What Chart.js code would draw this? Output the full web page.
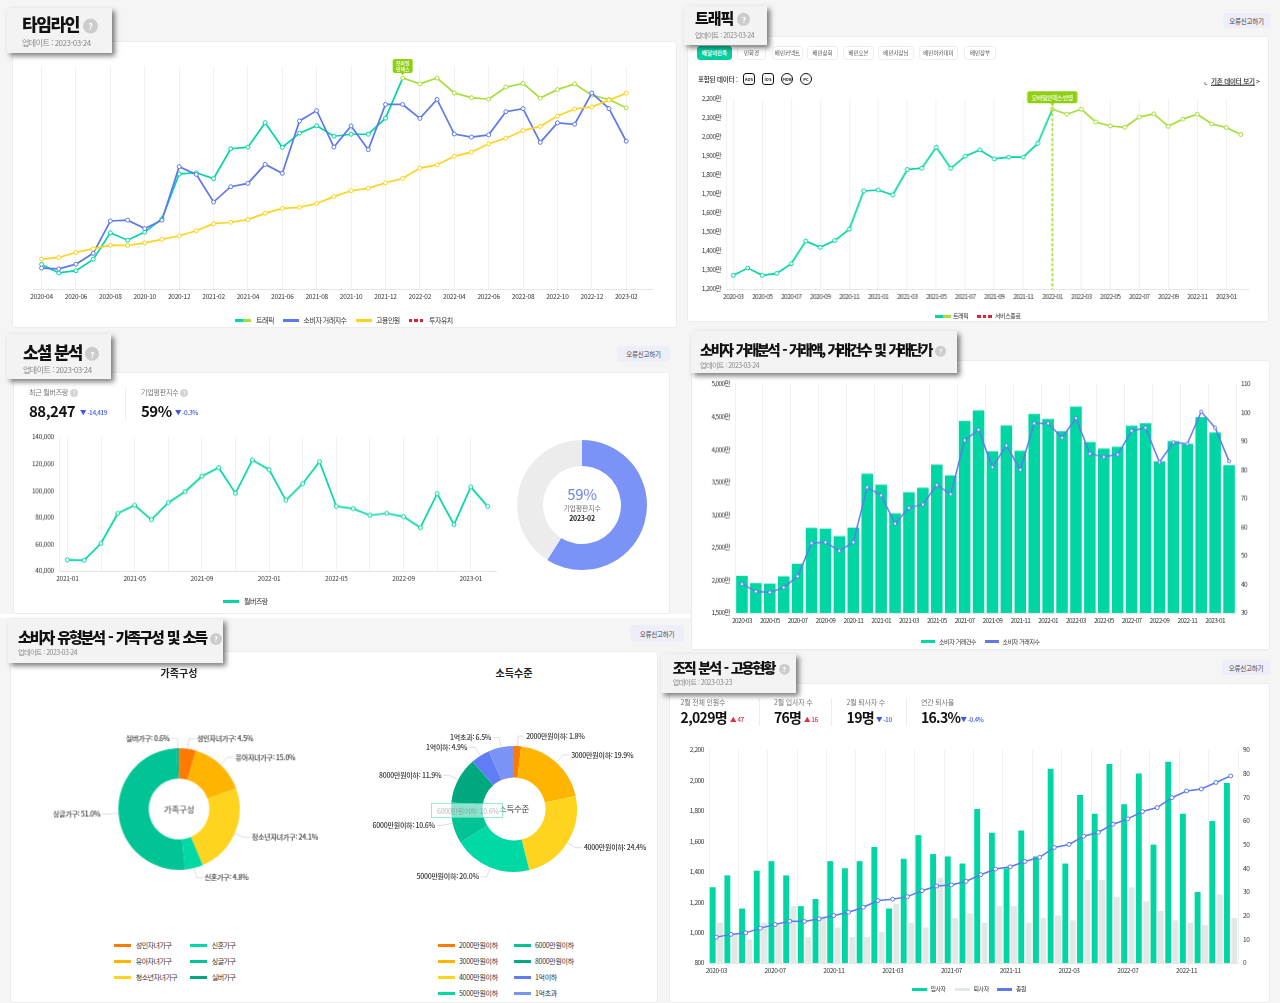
<!DOCTYPE html>
<html lang="ko">
<head>
<meta charset="utf-8">
<title>배달의민족 대시보드</title>
<script src="https://cdn.jsdelivr.net/npm/chart.js@4"></script>
<style>
  html, body { margin: 0; padding: 0; }
  body { width: 1280px; height: 1003px; position: relative; overflow: hidden; background: #f5f5f5;
         font-family: 'Noto Sans CJK KR', 'Noto Sans', sans-serif; color: #222; filter: blur(.3px); }
  .abs { position: absolute; box-sizing: border-box; }
  .t { position: absolute; white-space: nowrap; transform: translateY(-50%); line-height: 1; }
  .card { background: #fff; border: 1px solid #ececec; border-radius: 3px; }
  .head { background: #f3f3f3; box-shadow: 3px 3px 5px rgba(0,0,0,.5); z-index: 5; }
  .btn { background: #eeeef8; border-radius: 3px; font-size: 6.5px; letter-spacing: -.2px; color: #444; display: flex; align-items: center; justify-content: center; }
  .tab { background: #fff; border: 1px solid #eee; border-radius: 3px; font-size: 5.5px; color: #555; display: flex; align-items: center; justify-content: center; white-space: nowrap; }
  .tab.on { background: #00d0a0; border-color: #00d0a0; color: #fff; font-weight: 700; }
  .badge { border: 1.2px solid #111; font-size: 4px; font-weight: 700; display: flex; align-items: center; justify-content: center; background: #fff; }
  canvas { position: absolute; display: block; }
</style>
</head>
<body>
<script>
// 월 라벨
const months = ['2020-03','2020-04','2020-05','2020-06','2020-07','2020-08','2020-09','2020-10','2020-11','2020-12',
  '2021-01','2021-02','2021-03','2021-04','2021-05','2021-06','2021-07','2021-08','2021-09','2021-10','2021-11','2021-12',
  '2022-01','2022-02','2022-03','2022-04','2022-05','2022-06','2022-07','2022-08','2022-09','2022-10','2022-11','2022-12',
  '2023-01','2023-02'];

// 트래픽 (만)
const trafficValues = [1272,1310,1272,1282,1333,1452,1419,1455,1515,1716,1721,1695,1829,1836,1946,1835,1899,1932,1885,1894,1894,1966,
  2146,2120,2146,2079,2058,2051,2105,2122,2056,2094,2120,2069,2050,2013];
// 소비자 거래지수
const indexValues = [40.1,37.5,37.2,38.9,42.8,54.4,54.7,51.7,54.7,73.9,71.1,61.2,66.7,67.9,74.7,71.5,90.3,94,80.9,88.5,80,96.2,
  96.2,91.2,98,85.6,84.5,85.3,93.6,94.7,82.6,89.6,89.1,100.3,94.7,83];
// 소비자 거래건수 (만)
const dealCounts = [2069,1957,1947,2059,2252,2800,2790,2673,2805,3628,3461,3024,3344,3415,3766,3603,4436,4594,3969,4365,3979,4543,
  4467,4279,4654,4111,4014,4040,4360,4400,3816,4126,4086,4492,4258,3761];
// 고용 총원 / 입사자 / 퇴사자
const staffTotal = [970,988,998,1029,1053,1075,1073,1090,1112,1134,1166,1210,1219,1236,1275,1306,1313,1337,1380,1417,1432,1467,
  1494,1559,1579,1633,1659,1712,1747,1795,1821,1886,1930,1943,1986,2029];
const joiners = [32,37,23,39,43,37,24,27,43,40,43,49,23,44,54,46,45,42,65,55,40,56,45,82,42,71,63,84,67,80,50,85,63,30,60,76];
const leavers = [17,12,10,17,16,24,11,20,15,11,11,13,25,17,15,36,19,21,17,24,24,17,19,20,18,35,35,28,32,26,22,18,17,16,29,19];

// 소셜 분석
const buzzMonths = months.slice(10);
const buzzValues = [48210,47960,60650,83040,89010,78310,91000,99210,110660,117130,97970,122850,115630,92750,105190,121600,
  88270,86530,81550,83040,80550,72340,97720,74580,102666,88247];
const reputation = [59, 41];

// 가족구성 / 소득수준
const familyLabels = ['성인자녀가구','유아자녀가구','청소년자녀가구','신혼가구','싱글가구','실버가구'];
const familyValues = [4.5,15.0,24.1,4.8,51.0,0.6];
const incomeLabels = ['2000만원이하','3000만원이하','4000만원이하','5000만원이하','6000만원이하','8000만원이하','1억이하','1억초과'];
const incomeValues = [1.8,19.9,24.4,20.0,10.6,11.9,4.9,6.5];

const GREEN = '#00d6a3', LIME = '#a6de38', BLUE = '#5f78ea', YELLOW = '#ffd21f', GREY = '#e0e9e5';
const familyColors = ['#ff7a00','#ffb400','#ffd41f','#00d9a3','#00c493','#00a87f'];
const incomeColors = ['#ff7a00','#ffb400','#ffd41f','#00d9a3','#00c493','#00a87f','#607df5','#7b93f7'];
const PIVOT = '2022-01';

Chart.defaults.font.family = "'Noto Sans CJK KR', 'Noto Sans', sans-serif";
Chart.defaults.font.size = 7;
Chart.defaults.color = '#333';
Chart.defaults.animation = false;
Chart.defaults.plugins.legend.display = false;
Chart.defaults.plugins.tooltip.enabled = false;

// 화면 요소 헬퍼
function box(x, y, w, h, cls, text) {
  const d = document.createElement('div');
  d.className = 'abs ' + (cls || '');
  d.style.cssText = `left:${x}px;top:${y}px;width:${w}px;height:${h}px;`;
  if (text) d.textContent = text;
  document.body.appendChild(d);
  return d;
}
function txt(x, y, text, size, color, weight, extra) {
  const d = document.createElement('div');
  d.className = 't';
  d.textContent = text;
  d.style.cssText = `left:${x}px;top:${y}px;font-size:${size}px;color:${color || '#333'};font-weight:${weight || 400};${extra || ''}`;
  document.body.appendChild(d);
  return d;
}
function header(x, y, w, h, title, tx, ty, size, spacing, word, update, uy, usize, q) {
  box(x, y, w, h, 'head');
  const t = txt(tx, ty, title, size, '#111', 900, `letter-spacing:${spacing}px;word-spacing:${word}px;z-index:6;`);
  const m = document.createElement('span');
  m.textContent = '?';
  m.style.cssText = `display:inline-block;width:${q}px;height:${q}px;line-height:${q}px;border-radius:50%;background:#ccc;color:#fff;font-size:${q * .6}px;text-align:center;margin-left:${4}px;letter-spacing:0;font-weight:700;vertical-align:middle;`;
  t.appendChild(m);
  txt(tx, uy, '업데이트 : ' + update, usize, '#888', 400, 'letter-spacing:-.5px;z-index:6;');
}
function legendItem(x, y, w, colors, label, tx, dashed, size, tight) {
  const s = box(x, y - 1.5, w, 3, '');
  if (dashed) s.style.background = `repeating-linear-gradient(90deg,${colors[0]} 0 3.5px,transparent 3.5px 5.5px)`;
  else if (colors.length > 1) s.style.background = `linear-gradient(90deg,${colors[0]} 50%,${colors[1]} 50%)`;
  else s.style.background = colors[0];
  txt(tx, y, label, size || 7, '#333', 400, `letter-spacing:${tight === undefined ? -.4 : tight}px;`);
}
function stat(x, label, value, ly, vy, vsize, spacing, delta, dx, up, q) {
  const l = txt(x, ly, label, 7, '#777', 400, 'letter-spacing:-.2px;');
  if (q) {
    const m = document.createElement('span');
    m.textContent = '?';
    m.style.cssText = 'display:inline-block;width:8px;height:8px;line-height:8px;border-radius:50%;background:#d5d5d5;color:#fff;font-size:5px;text-align:center;margin-left:2px;';
    l.appendChild(m);
  }
  txt(x, vy, value, vsize, '#111', 700, `letter-spacing:${spacing}px;`);
  txt(dx, vy + 2, (up ? '▲ ' : '▼ ') + delta, 6.5, up ? '#e0303f' : '#3f5be0', 500, 'letter-spacing:-.4px;');
}

// 지정한 플롯 영역에 정확히 맞춰 차트 생성 (tick: 눈금 글자 크기/자간)
function plot(area, L, R, T, B, tick, config) {
  const c = document.createElement('canvas');
  const w = area.x1 - area.x0 + L + R, h = area.y1 - area.y0 + T + B;
  c.width = w; c.height = h;
  c.style.left = (area.x0 - L) + 'px';
  c.style.top = (area.y0 - T) + 'px';
  c.style.width = w + 'px';
  c.style.height = h + 'px';
  document.body.appendChild(c);
  config.options = Object.assign({ responsive: false, maintainAspectRatio: false, devicePixelRatio: 1 }, config.options);
  Object.values(config.options.scales || {}).forEach(s => {
    s.ticks = Object.assign(s.ticks || {}, { font: { size: tick.size } });
  });
  const setSpacing = ch => { ch.ctx.letterSpacing = tick.spacing + 'px'; };
  config.plugins = [{ id: 'tight', beforeUpdate: setSpacing, beforeDraw: setSpacing }];
  return new Chart(c, config);
}
function xScale(gridEvery, labelEvery, gridOffset, height) {
  return {
    offset: true,
    border: { color: '#e6e6e6' },
    grid: { offset: gridOffset, drawTicks: false, color: c => c.index % gridEvery ? 'transparent' : '#f1f1f1' },
    ticks: { autoSkip: false, maxRotation: 0, padding: 4,
      callback: function (v, i) { return i % labelEvery ? '' : this.getLabelForValue(v); } },
    afterFit: s => { s.height = height; }
  };
}
function yScale(pos, min, max, step, width, fmt) {
  return {
    position: pos, min: min, max: max,
    border: { color: '#f1f1f1', display: pos === 'left' },
    grid: { display: false, drawTicks: false },
    ticks: { stepSize: step, padding: 5, callback: fmt },
    afterFit: s => { s.width = width; }
  };
}
function lineSet(label, data, color, axis, radius, width) {
  return { type: 'line', label: label, data: data, yAxisID: axis, borderColor: color, backgroundColor: color, borderWidth: width,
    tension: 0, pointRadius: radius, pointBorderWidth: 1, pointBackgroundColor: '#fff', pointBorderColor: color, order: 0 };
}
function trafficSet(labels, axis) {
  const pivot = labels.indexOf(PIVOT);
  const data = months.slice(months.indexOf(labels[0])).map(m => trafficValues[months.indexOf(m)]);
  const set = lineSet('트래픽', data, GREEN, axis, 2, 1.7);
  set.segment = { borderColor: c => c.p0DataIndex >= pivot ? LIME : GREEN };
  set.pointBorderColor = c => c.dataIndex >= pivot ? LIME : GREEN;
  return set;
}

// 모바일인덱스 반영 표시
const markPlugin = {
  id: 'mark',
  afterDraw(chart, args, o) {
    if (!o.lines) return;
    const p = chart.getDatasetMeta(o.set || 0).data[o.index];
    const ctx = chart.ctx;
    ctx.save();
    if (o.dash) {
      ctx.strokeStyle = '#9ad51f'; ctx.lineWidth = 1.5; ctx.setLineDash([3, 2]);
      ctx.beginPath(); ctx.moveTo(p.x, p.y - o.gap); ctx.lineTo(p.x, chart.chartArea.bottom); ctx.stroke();
      ctx.setLineDash([]);
    }
    const bx = p.x - o.w / 2, by = p.y - o.gap - o.h;
    ctx.fillStyle = '#8fcf10';
    ctx.beginPath(); ctx.roundRect(bx, by, o.w, o.h, 2); ctx.fill();
    ctx.beginPath(); ctx.moveTo(p.x - 2, by + o.h); ctx.lineTo(p.x + 2, by + o.h); ctx.lineTo(p.x, by + o.h + 2); ctx.fill();
    ctx.fillStyle = '#fff';
    ctx.font = `500 ${o.size}px 'Noto Sans CJK KR'`;
    ctx.textAlign = 'center'; ctx.textBaseline = 'middle';
    o.lines.forEach((s, i) => ctx.fillText(s, p.x, by + o.h / 2 + (i - (o.lines.length - 1) / 2) * (o.size + 1)));
    ctx.restore();
  }
};
Chart.register(markPlugin);

// 도넛 라벨 + 가운데 글자
const donutPlugin = {
  id: 'donutText',
  afterDraw(chart, args, o) {
    const ctx = chart.ctx;
    const meta = chart.getDatasetMeta(0);
    ctx.save();
    if (o.labels) {
      ctx.font = "500 7px 'Noto Sans CJK KR'";
      ctx.textBaseline = 'middle';
      meta.data.forEach((a, i) => {
        const mid = (a.startAngle + a.endAngle) / 2;
        const x1 = a.x + a.outerRadius * Math.cos(mid), y1 = a.y + a.outerRadius * Math.sin(mid);
        const x2 = a.x + (a.outerRadius + 10) * Math.cos(mid), y2 = a.y + (a.outerRadius + 10) * Math.sin(mid);
        const right = mid < Math.PI / 2;
        const x3 = x2 + (right ? 6 : -6);
        ctx.strokeStyle = '#d4d4d4'; ctx.lineWidth = 0.8;
        ctx.beginPath(); ctx.moveTo(x1, y1); ctx.lineTo(x2, y2); ctx.lineTo(x3, y2); ctx.stroke();
        ctx.fillStyle = '#333';
        ctx.textAlign = right ? 'left' : 'right';
        const val = chart.data.datasets[0].data[i].toFixed(1);
        ctx.fillText(`${chart.data.labels[i]}: ${val}%`, x3 + (right ? 2 : -2), y2);
      });
    }
    const p = meta.data[0];
    (o.center || []).forEach(c => {
      ctx.fillStyle = c.color; ctx.textAlign = 'center'; ctx.textBaseline = 'middle';
      ctx.font = `${c.weight || 400} ${c.size}px 'Noto Sans CJK KR'`;
      ctx.fillText(c.text, p.x, p.y + c.dy);
    });
    ctx.restore();
  }
};
Chart.register(donutPlugin);

function donut(cx, cy, R, cutout, labels, values, colors, opts) {
  const pad = 120;
  const area = { x0: cx - R, x1: cx + R, y0: cy - R, y1: cy + R };
  return plot(area, pad, pad, opts.labels ? 30 : 2, opts.labels ? 30 : 2, { size: 7, spacing: -0.25 }, {
    type: 'doughnut',
    data: { labels: labels, datasets: [{ data: values, backgroundColor: colors, borderWidth: 0 }] },
    options: {
      cutout: cutout, layout: { padding: { left: pad, right: pad, top: opts.labels ? 30 : 2, bottom: opts.labels ? 30 : 2 } },
      plugins: { donutText: opts }
    }
  });
}

/* ---------- 배경 카드 ---------- */
box(12, 41, 665, 287, 'card');
box(687, 36, 582, 286, 'card');
box(13, 372, 657, 242, 'card');
box(0, 614, 690, 4, '', '').style.background = '#fff';
box(691, 360, 579, 290, 'card');
box(10, 651, 648, 352, 'card');
box(669, 683, 601, 320, 'card');

box(1223, 13, 47, 15, 'btn', '오류신고하기');
box(617, 346, 53, 16, 'btn', '오류신고하기');
box(630, 625, 54, 17, 'btn', '오류신고하기');
box(1222, 660, 48, 15, 'btn', '오류신고하기');

/* ---------- 타임라인 ---------- */
header(7, 8, 105, 45, '타임라인', 22, 24, 17, -1.4, 0, '2023-03-24', 43, 8, 15);
const timelineLabels = months.slice(1).concat(['2023-03']);
plot({ x0: 32.5, x1: 652, y0: 66, y1: 289 }, 10, 10, 25, 20, { size: 6.5, spacing: -0.2 }, {
  data: {
    labels: timelineLabels,
    datasets: [
      lineSet('고용인원', staffTotal.slice(1), YELLOW, 'yStaff', 2, 1.7),
      lineSet('소비자 거래지수', indexValues.slice(1), BLUE, 'yIndex', 2, 1.7),
      trafficSet(timelineLabels, 'yTraffic')
    ]
  },
  options: {
    layout: { padding: { left: 10, right: 10, top: 25 } },
    scales: {
      x: xScale(2, 2, false, 20),
      yTraffic: { display: false, min: 1200, max: 2200 },
      yIndex: { display: false, min: 30, max: 110 },
      yStaff: { display: false, min: 800, max: 2200 }
    },
    plugins: { mark: { set: 2, index: timelineLabels.indexOf(PIVOT), lines: ['모바일', '인덱스'], w: 20, h: 14, gap: 5, size: 5 } }
  }
});
legendItem(235, 320, 16, [GREEN, LIME], '트래픽', 256, false, 7, -.5);
legendItem(283, 320, 16, [BLUE], '소비자 거래지수', 303.5, false, 7, -.5);
legendItem(356, 320, 16, [YELLOW], '고용인원', 376, false, 7, -.5);
legendItem(409, 320, 16, ['#e0203a'], '투자유치', 429, true, 7, -.5);

/* ---------- 트래픽 ---------- */
header(684, 6, 83, 39, '트래픽', 695, 18, 15, -1, 0, '2023-03-24', 35, 7, 13);
[[697, 35, '배달의민족', true], [737, 29, '민화경'], [772, 31, '배민커넥트'], [807, 31, '배민상회'], [843, 31, '배민오븐'],
 [878, 36, '배민사장님'], [919, 39, '배민아카데미'], [964, 32, '배민장부']].forEach(t => box(t[0], 46, t[1], 14, 'tab' + (t[3] ? ' on' : ''), t[2]));
txt(698, 79, '포함된 데이터 :', 6.5, '#222', 500, 'letter-spacing:-.2px;');
[[743, 'AOS', 3], [762, 'iOS', 3], [781, 'MOB', 7], [800, 'PC', 7]].forEach(b => {
  box(b[0], 73, 12, 12, 'badge', b[1]).style.borderRadius = b[2] + 'px';
});
txt(1204, 81, '⌞', 8, '#222');
txt(1211, 81, '기존 데이터 보기', 6.5, '#222', 500, 'text-decoration:underline;letter-spacing:-.2px;');
txt(1256, 81, '>', 7, '#222');
plot({ x0: 726, x1: 1247.5, y0: 98.7, y1: 289.3 }, 34, 10, 20, 20, { size: 6.5, spacing: -0.5 }, {
  data: { labels: months, datasets: [trafficSet(months, 'y')] },
  options: {
    layout: { padding: { right: 10, top: 20 } },
    scales: {
      x: xScale(2, 2, false, 20),
      y: yScale('left', 1200, 2200, 100, 34, v => v.toLocaleString('en-US') + '만')
    },
    plugins: { mark: { index: months.indexOf(PIVOT), lines: ['모바일인덱스 반영'], w: 50, h: 12, gap: 6, size: 6, dash: true } }
  }
});
legendItem(935, 316, 16, [GREEN, LIME], '트래픽', 953, false, 6, -.4);
legendItem(977, 316, 15, ['#e0203a'], '서비스종료', 995, true, 6, -.4);

/* ---------- 소셜 분석 ---------- */
header(7, 334, 104, 45, '소셜 분석', 23, 352, 17, -2, 1, '2023-03-24', 370, 8, 14);
stat(29, '최근 월버즈랑', '88,247', 393, 410, 15, -.5, '-14,419', 80, false, true);
box(125, 388, 1, 32, '').style.background = '#eee';
stat(141, '기업평판지수', '59%', 393, 410, 15, -.5, '-0.3%', 175, false, true);
plot({ x0: 58.5, x1: 495.5, y0: 437.3, y1: 571.3 }, 40, 10, 10, 20, { size: 6.5, spacing: -0.2 }, {
  data: { labels: buzzMonths, datasets: [lineSet('월버즈랑', buzzValues, GREEN, 'y', 2, 1.7)] },
  options: {
    layout: { padding: { right: 10, top: 10 } },
    scales: {
      x: xScale(2, 4, false, 20),
      y: yScale('left', 40000, 140000, 20000, 40, v => v.toLocaleString('en-US'))
    }
  }
});
legendItem(223, 601, 16, [GREEN], '월버즈랑', 244, false, 7, -.5);
donut(582, 504.5, 65, '60%', ['기업평판지수', '나머지'], reputation, ['#7b93f7', '#ececec'], {
  center: [
    { text: reputation[0] + '%', size: 15, color: '#6c82e8', dy: -11 },
    { text: '기업평판지수', size: 7, color: '#777', dy: 3.5 },
    { text: '2023-02', size: 7, color: '#222', weight: 700, dy: 13.5 }
  ]
});

/* ---------- 소비자 거래분석 ---------- */
header(691, 331, 266, 42, '소비자 거래분석 - 거래액, 거래건수 및 거래단가', 700, 349, 14, -2.2, 2, '2023-03-24', 365, 7, 11);
plot({ x0: 735, x1: 1236, y0: 383, y1: 612.7 }, 40, 30, 8, 20, { size: 6.5, spacing: -0.6 }, {
  data: {
    labels: months,
    datasets: [
      lineSet('소비자 거래지수', indexValues, '#6478ee', 'y1', 1.6, 1.5),
      { type: 'bar', label: '소비자 거래건수', data: dealCounts, yAxisID: 'y', backgroundColor: GREEN, barPercentage: .83, categoryPercentage: 1, order: 1 }
    ]
  },
  options: {
    layout: { padding: { top: 8 } },
    scales: {
      x: xScale(2, 2, true, 20),
      y: yScale('left', 1500, 5000, 500, 40, v => v.toLocaleString('en-US') + '만'),
      y1: yScale('right', 30, 110, 10, 30, v => v)
    }
  }
});
legendItem(921, 641.7, 14, [GREEN], '소비자 거래건수', 939, false, 6, -.4);
legendItem(985, 641.7, 14, ['#6478ee'], '소비자 거래지수', 1002.6, false, 6, -.4);

/* ---------- 소비자 유형분석 ---------- */
header(8, 619, 215, 44, '소비자 유형분석 - 가족구성 및 소득', 18, 637, 15, -2.1, 2, '2023-03-24', 652, 7, 12);
txt(179, 673, '가족구성', 10, '#222', 700, 'transform:translate(-50%,-50%);');
txt(514, 673, '소득수준', 10, '#222', 700, 'transform:translate(-50%,-50%);');
donut(179, 809, 60.7, '50%', familyLabels, familyValues, familyColors, {
  labels: true, center: [{ text: '가족구성', size: 8.5, color: '#333', dy: 0 }]
});
donut(513.7, 809, 63, '50%', incomeLabels, incomeValues, incomeColors, {
  labels: true, center: [{ text: '소득수준', size: 8.5, color: '#333', dy: 0 }]
});
const ghost = box(431, 803, 72, 15, '');
ghost.style.cssText += 'background:rgba(255,255,255,.55);border:1px solid rgba(0,200,160,.4);z-index:3;';
txt(437, 810.5, '6000만원이하: 10.6%', 7, 'rgba(120,120,120,.55)', 400, 'z-index:3;letter-spacing:-.25px;');
familyLabels.forEach((lab, i) => {
  const col = i < 3 ? 0 : 1, row = i % 3;
  legendItem(col ? 190 : 114, 945 + row * 16, 17, [familyColors[i]], lab, col ? 211.7 : 135.7, false, 7, -.5);
});
incomeLabels.forEach((lab, i) => {
  const col = i < 4 ? 0 : 1, row = i % 4;
  legendItem(col ? 514 : 437.7, 945 + row * 16, 17, [incomeColors[i]], lab, col ? 535 : 459, false, 7, -.3);
});

/* ---------- 조직 분석 ---------- */
header(661, 654, 135, 39, '조직 분석 - 고용현황', 672.7, 667, 14, -1.9, 1.5, '2023-03-23', 682, 7, 11);
stat(680.6, '2월 전체 인원수', '2,029명', 702, 717, 14, -.7, '47', 730, true);
stat(774, '2월 입사자 수', '76명', 702, 717, 14, -.7, '16', 804, true);
stat(846.6, '2월 퇴사자 수', '19명', 702, 717, 14, -.7, '-10', 876, false);
stat(921, '연간 퇴사율', '16.3%', 702, 717, 14, -.7, '-0.4%', 960.5, false);
[759, 831, 906].forEach(x => { box(x, 698, 1, 28, '').style.background = '#eee'; });
plot({ x0: 708.6, x1: 1237.7, y0: 748.7, y1: 962.7 }, 34, 30, 8, 20, { size: 6.5, spacing: -0.4 }, {
  data: {
    labels: months,
    datasets: [
      lineSet('총원', staffTotal, BLUE, 'y', 2, 1.5),
      { type: 'bar', label: '입사자', data: joiners, yAxisID: 'y1', backgroundColor: GREEN, barPercentage: .8, categoryPercentage: 1, order: 1 },
      { type: 'bar', label: '퇴사자', data: leavers, yAxisID: 'y1', backgroundColor: GREY, barPercentage: .8, categoryPercentage: 1, order: 1 }
    ]
  },
  options: {
    layout: { padding: { top: 8 } },
    scales: {
      x: xScale(2, 4, true, 20),
      y: yScale('left', 800, 2200, 200, 34, v => v.toLocaleString('en-US')),
      y1: yScale('right', 0, 90, 10, 30, v => v)
    }
  }
});
legendItem(912, 989, 15, [GREEN], '입사자', 930.5, false, 6, -.5);
legendItem(955, 989, 15, [GREY], '퇴사자', 973.6, false, 6, -.5);
legendItem(997, 989, 15, [BLUE], '총원', 1016, false, 6, -.5);
</script>
</body>
</html>
